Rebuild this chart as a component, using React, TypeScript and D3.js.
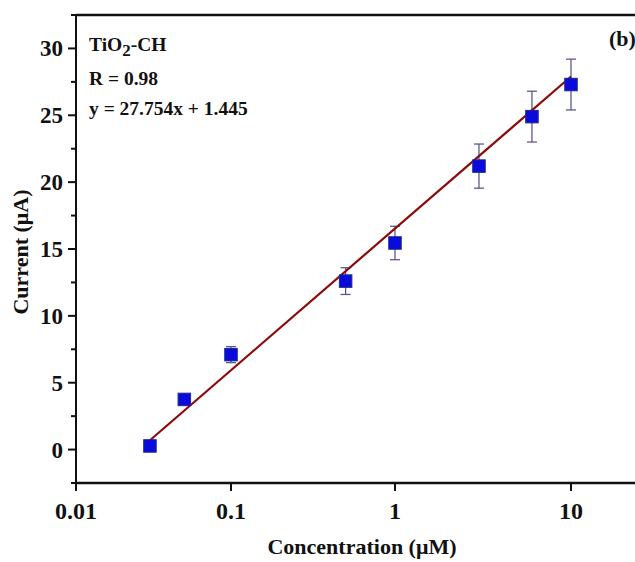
import React from "react";
import * as d3 from "d3";

// Concentration (µM), mean current (µA) and standard deviation
const concentrations = [0.03, 0.05, 0.1, 0.5, 1, 3, 6, 10];
const currents = [0.27, 3.75, 7.1, 12.6, 15.45, 21.2, 24.9, 27.3];
const errors = [0, 0, 0.6, 1.0, 1.25, 1.65, 1.9, 1.9];

// Fitted line endpoints
const fitX = [0.03, 10];
const fitY = [0.7, 27.9];

const xTicks = [0.01, 0.1, 1, 10];
const xTickLabels = ["0.01", "0.1", "1", "10"];
const yTicks = [0, 5, 10, 15, 20, 25, 30];
const yMinorTicks = [-2.5, 2.5, 7.5, 12.5, 17.5, 22.5, 27.5, 32.5];

const W = 635;
const H = 562;
const FONT = "'Liberation Serif', 'Times New Roman', serif";

export default function App() {
  const left = 76;
  const top = 15;
  const bottom = 483;

  // Decade-by-decade log axis
  const x = d3
    .scaleLog()
    .domain([0.01, 0.1, 1, 10])
    .range([left, 231, 395, 571]);
  const y = d3.scaleLinear().domain([-2.5, 32.5]).range([bottom, top]);

  const line = d3
    .line<[number, number]>()
    .x((d) => x(d[0]))
    .y((d) => y(d[1]));
  const fitPts: [number, number][] = fitX.map((v, i) => [v, fitY[i]]);

  const axisColor = "#111";
  const marker = 12.5;

  return (
    <svg
      width={W}
      height={H}
      style={{ position: "absolute", left: 0, top: 0, background: "#fff" }}
      fontFamily={FONT}
      fontWeight="bold"
    >
      {/* frame */}
      <line x1={left} x2={W} y1={top} y2={top} stroke={axisColor} strokeWidth={2.5} />
      <line x1={left} x2={left} y1={top - 1} y2={bottom + 1} stroke={axisColor} strokeWidth={2} />
      <line x1={left - 1} x2={W} y1={bottom} y2={bottom} stroke={axisColor} strokeWidth={2.5} />

      {/* y ticks */}
      {yTicks.map((t) => (
        <g key={"y" + t}>
          <line x1={left - 8} x2={left} y1={y(t)} y2={y(t)} stroke={axisColor} strokeWidth={2} />
          <text
            x={left - 13}
            y={y(t) + 8}
            textAnchor="end"
            fontSize={23}
            fill="#111"
          >
            {t}
          </text>
        </g>
      ))}
      {yMinorTicks.map((t) => (
        <line
          key={"ym" + t}
          x1={left - 5}
          x2={left}
          y1={y(t)}
          y2={y(t)}
          stroke={axisColor}
          strokeWidth={2}
        />
      ))}

      {/* x ticks */}
      {xTicks.map((t, i) => (
        <g key={"x" + t}>
          <line x1={x(t)} x2={x(t)} y1={bottom} y2={bottom + 8} stroke={axisColor} strokeWidth={2} />
          <text x={x(t)} y={519} textAnchor="middle" fontSize={24} fill="#111">
            {xTickLabels[i]}
          </text>
        </g>
      ))}

      {/* axis titles */}
      <text x={362} y={554} textAnchor="middle" fontSize={22} fill="#111">
        Concentration (μM)
      </text>
      <text
        transform={`translate(28, 252) rotate(-90)`}
        textAnchor="middle"
        fontSize={22}
        fill="#111"
      >
        Current (μA)
      </text>

      {/* annotations */}
      <text x={89} y={51} fontSize={19.5} fill="#111">
        TiO
        <tspan dy={5} fontSize={17}>
          2
        </tspan>
        <tspan dy={-5}>-CH</tspan>
      </text>
      <text x={89} y={85} fontSize={19.5} fill="#111">
        R = 0.98
      </text>
      <text x={89} y={115} fontSize={19.5} fill="#111">
        y = 27.754x + 1.445
      </text>
      <text x={609} y={46} fontSize={22} fill="#111">
        (b)
      </text>

      {/* error bars */}
      {concentrations.map((c, i) =>
        errors[i] > 0 ? (
          <g key={"e" + c} stroke="#5a5a8c" strokeWidth={1.3}>
            <line x1={x(c)} x2={x(c)} y1={y(currents[i] - errors[i])} y2={y(currents[i] + errors[i])} />
            <line
              x1={x(c) - 5}
              x2={x(c) + 5}
              y1={y(currents[i] + errors[i])}
              y2={y(currents[i] + errors[i])}
            />
            <line
              x1={x(c) - 5}
              x2={x(c) + 5}
              y1={y(currents[i] - errors[i])}
              y2={y(currents[i] - errors[i])}
            />
          </g>
        ) : null
      )}

      {/* fitted line */}
      <path d={line(fitPts) ?? ""} fill="none" stroke="#8b0a0a" strokeWidth={2.2} />

      {/* data markers */}
      {concentrations.map((c, i) => (
        <rect
          key={"m" + c}
          x={x(c) - marker / 2}
          y={y(currents[i]) - marker / 2}
          width={marker}
          height={marker}
          fill="#0a0adc"
          stroke="#1a2a8a"
          strokeWidth={1}
        />
      ))}
    </svg>
  );
}
